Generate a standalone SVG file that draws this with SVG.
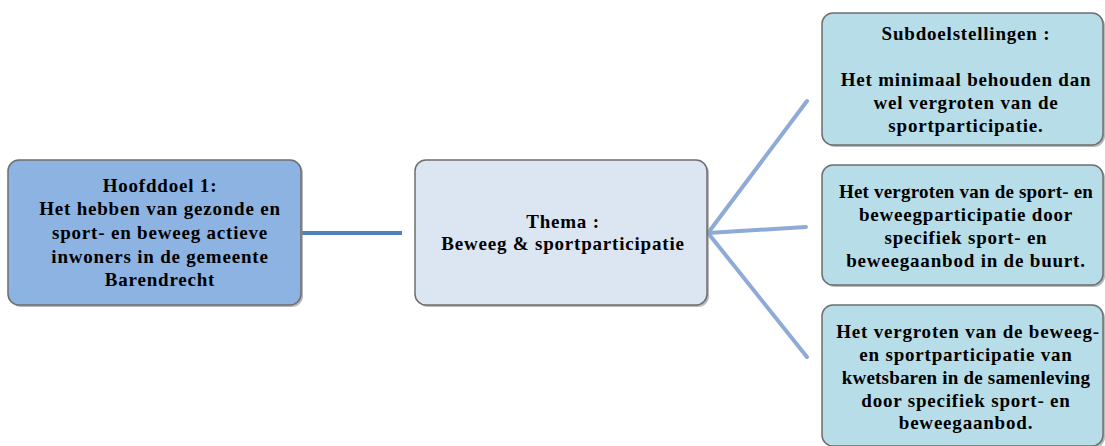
<svg xmlns="http://www.w3.org/2000/svg" width="1105" height="446" viewBox="0 0 1105 446">
<style>
.box{stroke:#6e6e6e;stroke-width:1.5}
.sh{fill:#8a8a8a;opacity:0.6}
.t{font-family:"Liberation Serif","DejaVu Serif",serif;font-weight:bold;font-size:19px;letter-spacing:0.8px;fill:#000;text-anchor:middle}
.n{letter-spacing:0.2px}
.c1{stroke:#4f81bd;stroke-width:4;fill:none}
.c2{stroke:#8eaad6;stroke-width:4;fill:none;stroke-linecap:round}
</style>
<rect width="1105" height="446" fill="#fff"/>
<g id="connectors">
<line class="c1" x1="302" y1="233" x2="402" y2="233"/>
<line class="c2" x1="708" y1="233" x2="807" y2="101"/>
<line class="c2" x1="708" y1="233" x2="806" y2="227"/>
<line class="c2" x1="708" y1="233" x2="807" y2="357"/>
</g>
<g id="hoofddoel">
<rect class="sh" x="10" y="162" width="293" height="145" rx="11"/>
<rect class="box" x="8" y="160" width="293" height="145" rx="11" fill="#8db3e2"/>
<text class="t" x="160" y="192">Hoofddoel 1:</text>
<text class="t" x="160" y="215">Het hebben van gezonde en</text>
<text class="t" x="160" y="239">sport- en beweeg actieve</text>
<text class="t" x="160" y="263">inwoners in de gemeente</text>
<text class="t" x="160" y="286">Barendrecht</text>
</g>
<g id="thema">
<rect class="sh" x="417" y="162" width="292" height="145" rx="11"/>
<rect class="box" x="415" y="160" width="292" height="145" rx="11" fill="#dce6f2"/>
<text class="t" x="563" y="228">Thema :</text>
<text class="t" x="563" y="250">Beweeg &amp; sportparticipatie</text>
</g>
<g id="sub1">
<rect class="sh" x="824" y="15" width="281" height="132" rx="11"/>
<rect class="box" x="822" y="13" width="281" height="132" rx="11" fill="#b7dde8"/>
<text class="t" x="966" y="40">Subdoelstellingen :</text>
<text class="t" x="966" y="86">Het minimaal behouden dan</text>
<text class="t" x="966" y="109">wel vergroten van de</text>
<text class="t" x="966" y="132">sportparticipatie.</text>
</g>
<g id="sub2">
<rect class="sh" x="824" y="167" width="281" height="120" rx="11"/>
<rect class="box" x="822" y="165" width="281" height="120" rx="11" fill="#b7dde8"/>
<text class="t n" x="966" y="198">Het vergroten van de sport- en</text>
<text class="t" x="966" y="221">beweegparticipatie door</text>
<text class="t" x="966" y="244">specifiek sport- en</text>
<text class="t" x="966" y="267">beweegaanbod in de buurt.</text>
</g>
<g id="sub3">
<rect class="sh" x="824" y="307" width="281" height="141" rx="11"/>
<rect class="box" x="822" y="305" width="281" height="141" rx="11" fill="#b7dde8"/>
<text class="t" x="968" y="338">Het vergroten van de beweeg-</text>
<text class="t" x="966" y="361">en sportparticipatie van</text>
<text class="t n" x="966" y="384">kwetsbaren in de samenleving</text>
<text class="t" x="966" y="407">door specifiek sport- en</text>
<text class="t" x="966" y="429">beweegaanbod.</text>
</g>
</svg>
